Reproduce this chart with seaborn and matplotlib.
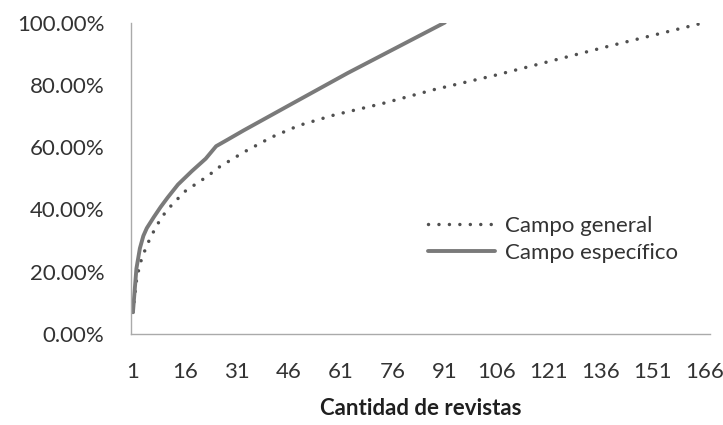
import numpy as np
import pandas as pd
import seaborn as sns
import matplotlib.pyplot as plt
from matplotlib.ticker import FuncFormatter

# Cumulative share of articles vs number of journals
general_x = [1, 2, 3, 5, 7, 9, 11, 14, 16, 20, 23, 25, 33, 41, 49, 59, 73, 88, 106, 139, 166]
general_y = [7.0, 17.0, 22.5, 28.5, 33.0, 37.0, 40.0, 43.5, 45.8, 48.8, 51.0, 53.0,
             58.4, 63.2, 67.0, 70.3, 74.0, 78.5, 83.2, 92.6, 100.0]

specific_x = [1, 2, 3, 4, 5, 7, 9, 11, 14, 18, 22, 25, 28, 33, 47, 63, 91]
specific_y = [7.0, 21.0, 27.5, 31.5, 34.0, 37.5, 40.8, 43.8, 48.0, 52.3, 56.3,
              60.3, 62.2, 65.4, 74.0, 83.8, 100.0]

x_ticks = [1, 16, 31, 46, 61, 76, 91, 106, 121, 136, 151, 166]
y_ticks = [0, 20, 40, 60, 80, 100]

sns.set_theme(style="white")
plt.rcParams['font.family'] = ['Lato', 'DejaVu Sans']
text_color = '#333333'

fig = plt.figure(figsize=(7.23, 4.25), dpi=100)
ax = fig.add_axes([0.181, 0.214, 0.801, 0.733])

general_df = pd.DataFrame({'x': general_x, 'y': general_y})
specific_df = pd.DataFrame({'x': specific_x, 'y': specific_y})

sns.lineplot(data=general_df, x='x', y='y', ax=ax, color='#505050', linewidth=2.5,
             linestyle=(0, (0.01, 3.0)), dash_capstyle='round', label='Campo general')
sns.lineplot(data=specific_df, x='x', y='y', ax=ax, color='#7a7a7a', linewidth=2.8,
             label='Campo específico')

ax.set_xlim(0.4, 167.5)
ax.set_ylim(0, 100)
ax.set_xticks(x_ticks)
ax.set_yticks(y_ticks)
ax.yaxis.set_major_formatter(FuncFormatter(lambda v, p: f"{v:.2f}%"))
ax.tick_params(axis='both', length=0, labelsize=16, colors=text_color)
ax.tick_params(axis='x', pad=20)
ax.tick_params(axis='y', pad=19)

for side in ['top', 'right']:
    ax.spines[side].set_visible(False)
for side in ['left', 'bottom']:
    ax.spines[side].set_color('#aaaaaa')
    ax.spines[side].set_linewidth(1.0)

ax.set_xlabel('Cantidad de revistas', fontsize=16, fontweight='bold', color='#1f1f1f', labelpad=12)
ax.set_ylabel('')

ax.legend(loc='upper left', bbox_to_anchor=(428 / 723, 1 - 216 / 425), bbox_transform=fig.transFigure,
          frameon=False, fontsize=16, handlelength=3.0, handletextpad=0.45, labelspacing=0.3,
          borderpad=0, borderaxespad=0, labelcolor=text_color)

fig.savefig('out.png', dpi=100)
